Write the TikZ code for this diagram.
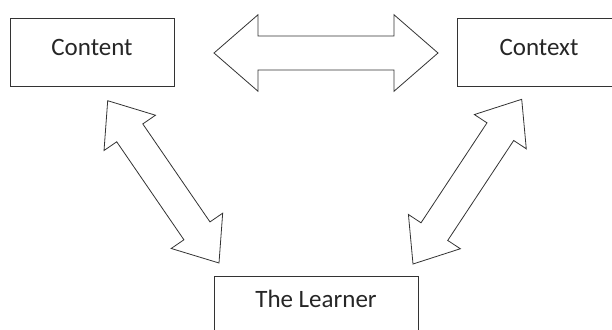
\documentclass[tikz,border=0pt]{standalone}
\usepackage{fontspec}
\setmainfont{Carlito}
\usetikzlibrary{calc}
\tikzset{
  box/.style={draw=black!80, line width=0.8pt, minimum width=164pt, minimum height=68pt,
    inner sep=0pt, font=\fontsize{25}{30}\selectfont, text=black!85, text depth=8.8pt},
  link/.style={draw=black!80, line width=0.8pt, fill=white, line join=miter},
}
% block double arrow from #1 to #2: head length #3, head half width #4, shaft half width #5
\newcommand\dblockarrow[5]{%
  \coordinate (#1-h) at ($(#1)!#3!(#2)$);
  \coordinate (#2-h) at ($(#2)!#3!(#1)$);
  \draw[link] (#1) -- ($(#1-h)!#4!90:(#2)$) -- ($(#1-h)!#5!90:(#2)$)
    -- ($(#2-h)!#5!-90:(#1)$) -- ($(#2-h)!#4!-90:(#1)$) -- (#2)
    -- ($(#2-h)!#4!90:(#1)$) -- ($(#2-h)!#5!90:(#1)$)
    -- ($(#1-h)!#5!-90:(#2)$) -- ($(#1-h)!#4!-90:(#2)$) -- cycle;}
\begin{document}
\begin{tikzpicture}[x=1pt, y=-1pt]
  \useasboundingbox (0,0) rectangle (612,329);
  \clip (0,0) rectangle (612,329);
  % the three boxes
  \node[box] (content) at (92,52) {Content};
  \node[box] (context) at (539,52) {Context};
  \node[box, minimum width=204pt, minimum height=56pt, text depth=10pt] (learner) at (316,304) {The Learner};
  % ends of the arrows
  \coordinate (cc1) at (214,53);
  \coordinate (cc2) at (438,53);
  \coordinate (cl1) at (107.7,100.7);
  \coordinate (cl2) at (219,263);
  \coordinate (xl1) at (521.7,99.3);
  \coordinate (xl2) at (413,264);
  % block arrows
  \dblockarrow{cc1}{cc2}{44pt}{38.25pt}{17pt}
  \dblockarrow{cl1}{cl2}{39pt}{31.2pt}{15.8pt}
  \dblockarrow{xl1}{xl2}{38.8pt}{31.1pt}{16pt}
\end{tikzpicture}
\end{document}
